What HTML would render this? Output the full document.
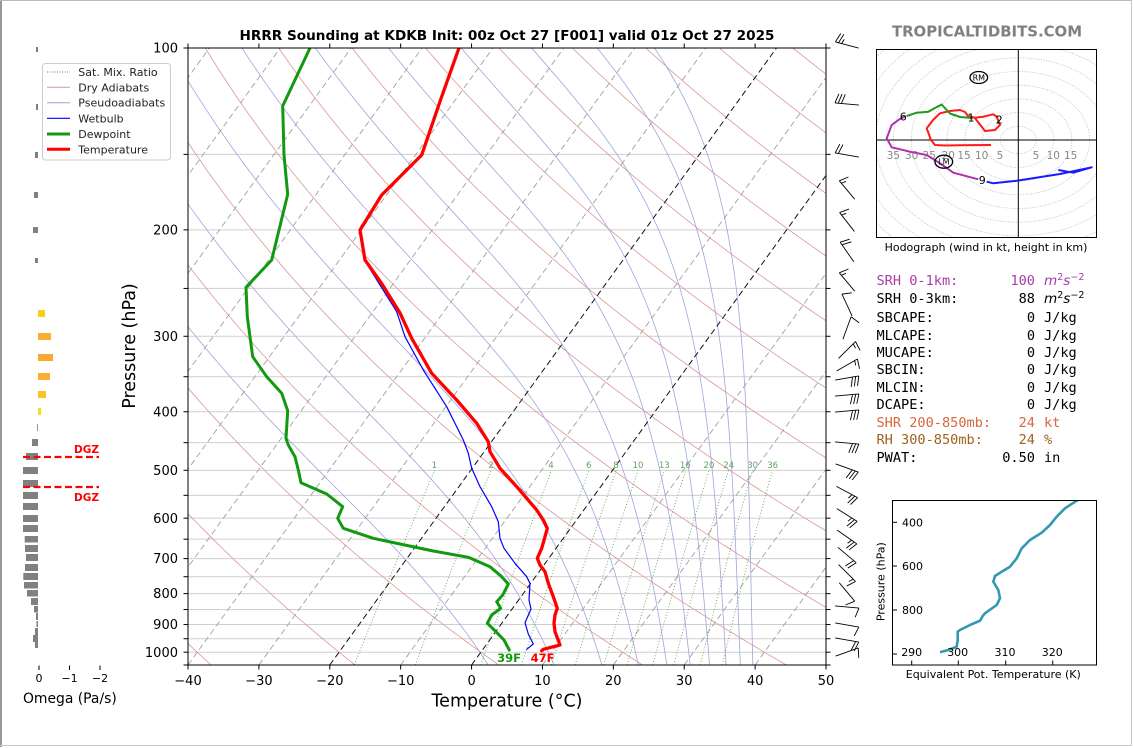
<!DOCTYPE html>
<html><head><meta charset="utf-8"><style>
html,body{margin:0;padding:0;background:#fff;}
svg{display:block;}
text{font-family:"DejaVu Sans","Liberation Sans",sans-serif;}
.mono text{font-family:"DejaVu Sans Mono","Liberation Mono",monospace;font-size:13.6px;}
.mono text.u{font-family:"DejaVu Sans","Liberation Sans",sans-serif;font-size:13.6px;}
</style></head><body>
<svg id="s" width="1134" height="748" viewBox="0 0 1134 748" xmlns="http://www.w3.org/2000/svg">
<defs>
<clipPath id="cm"><rect x="188" y="48" width="638" height="617"/></clipPath>
<clipPath id="ch"><rect x="876" y="49" width="221" height="188"/></clipPath>
<clipPath id="ct"><rect x="892" y="500" width="205" height="165"/></clipPath>
</defs>
<rect width="1134" height="748" fill="#fff"/>
<!-- frame -->
<line x1="1" y1="0" x2="1" y2="747" stroke="#777" stroke-width="1.5"/>
<line x1="0" y1="0.5" x2="1132" y2="0.5" stroke="#bbb" stroke-width="1"/>
<line x1="1131.5" y1="0" x2="1131.5" y2="746" stroke="#c8c8c8" stroke-width="1"/>
<line x1="0" y1="745.5" x2="1132" y2="745.5" stroke="#c8c8c8" stroke-width="1"/>

<!-- main background lines (script) -->
<g id="bg" clip-path="url(#cm)"></g>

<!-- profiles -->
<g clip-path="url(#cm)" fill="none" stroke-linejoin="round" stroke-linecap="round">
<polyline stroke="#0000ff" stroke-width="1.2" points="458.5,48 440,100 421,155 381,195 359.5,230 364.5,260 380,285 396.7,311.7 405,336.7 423.3,370 446.7,406.7 463.3,440 468.3,453.3 471.7,468.3 480,486.7 491.7,506.7 498.3,521.7 500,538.3 504,548.3 515,563.3 526.7,576.7 530,583.3 529,600 531,609 525,622.7 528.3,634 533.3,644 526.7,649.3"/>
<polyline stroke="#119911" stroke-width="3" points="310,48 282.7,106 284,155 287.7,194.3 271.7,260 246,287.3 247.3,316.7 252.7,356.7 266.7,376.7 281.7,393.3 287.7,410.7 286,438.3 288.3,445 295,456.7 298.3,470 301,482.7 326.7,494 342.7,506.7 337.7,518.3 343.3,528.3 373.3,538.3 400,544 433.3,551 468.3,557.3 490,566.7 501.7,576.7 508.3,584 502.7,595 496.7,601.7 500.7,608.3 491.7,615 487.3,623.3 495,630.7 504,640 509.3,650"/>
<polyline stroke="#ff0000" stroke-width="3.3" points="459,48 440.5,100 421.7,155 381.7,195 360,230 365,260 382,284 400,313 411.7,338.3 431.7,373.3 456.7,400 476.7,423.3 488.3,441.7 490,451.7 500,468.3 516.7,486.7 536.7,510 543.3,520 547.3,528.3 545,536.7 541.7,548.3 537.3,558.3 540,565 545,571.7 548.3,583.3 553.3,596.7 557.3,608.3 555,615 554,623.3 555,631.7 560,645 543.3,649.3 541.7,650.7"/>
</g>
<text x="509" y="662" font-size="11.5" font-weight="bold" fill="#119911" text-anchor="middle">39F</text>
<text x="542.5" y="662" font-size="11.5" font-weight="bold" fill="#ff0000" text-anchor="middle">47F</text>

<!-- mixing ratio labels -->
<g font-size="8.6" fill="#5fa55f" text-anchor="middle">
<text x="434.3" y="468">1</text><text x="491" y="468">2</text><text x="551" y="468">4</text><text x="588.7" y="468">6</text><text x="616" y="468">8</text><text x="638" y="468">10</text><text x="664.3" y="468">13</text><text x="685.3" y="468">16</text><text x="709" y="468">20</text><text x="728.7" y="468">24</text><text x="752.7" y="468">30</text><text x="772.7" y="468">36</text>
</g>

<!-- axes spines & ticks -->
<g id="axes"></g>
<rect x="188" y="48" width="638" height="617" fill="none" stroke="#000" stroke-width="1"/>

<!-- y tick labels -->
<g font-size="13" text-anchor="end" fill="#000">
<text x="178" y="52.6">100</text>
<text x="178" y="234.5">200</text>
<text x="178" y="340.9">300</text>
<text x="178" y="416.4">400</text>
<text x="178" y="474.9">500</text>
<text x="178" y="522.8">600</text>
<text x="178" y="563.2">700</text>
<text x="178" y="598.2">800</text>
<text x="178" y="629.2">900</text>
<text x="178" y="656.8">1000</text>
</g>
<!-- x tick labels -->
<g font-size="13" text-anchor="middle" fill="#000">
<text x="188" y="685">−40</text>
<text x="258.9" y="685">−30</text>
<text x="329.8" y="685">−20</text>
<text x="400.7" y="685">−10</text>
<text x="471.6" y="685">0</text>
<text x="542.4" y="685">10</text>
<text x="613.3" y="685">20</text>
<text x="684.2" y="685">30</text>
<text x="755.1" y="685">40</text>
<text x="826" y="685">50</text>
</g>
<text x="507" y="706.5" font-size="17.5" text-anchor="middle">Temperature (°C)</text>
<text transform="translate(135,346) rotate(-90)" font-size="17.5" text-anchor="middle">Pressure (hPa)</text>
<text x="507" y="40" font-size="13.6" font-weight="bold" text-anchor="middle">HRRR Sounding at KDKB Init: 00z Oct 27 [F001] valid 01z Oct 27 2025</text>
<text x="987" y="36.5" font-size="14.9" font-weight="bold" fill="#808080" text-anchor="middle">TROPICALTIDBITS.COM</text>

<!-- wind barbs -->
<g id="barbs"></g>

<!-- omega panel -->
<g fill="#808080">
<rect x="36" y="47" width="2" height="5"/>
<rect x="36" y="104" width="2" height="6"/>
<rect x="35" y="152" width="3" height="6"/>
<rect x="34" y="192" width="4" height="6"/>
<rect x="33" y="227" width="5" height="6"/>
<rect x="35" y="258" width="3" height="5"/>
<rect x="37.2" y="424" width="0.8" height="7"/>
<rect x="32" y="439" width="6" height="7"/>
<rect x="26" y="453" width="12" height="7"/>
<rect x="23" y="467" width="15" height="7"/>
<rect x="23" y="480" width="15" height="7"/>
<rect x="23" y="492" width="15" height="7"/>
<rect x="23" y="503" width="15" height="7"/>
<rect x="23" y="515" width="15" height="7"/>
<rect x="23" y="525" width="15" height="7"/>
<rect x="24.7" y="536" width="13.3" height="6.5"/>
<rect x="25" y="545" width="13" height="7"/>
<rect x="26" y="554" width="12" height="7"/>
<rect x="25" y="564" width="13" height="7"/>
<rect x="23.3" y="573" width="14.7" height="7"/>
<rect x="24" y="582" width="14" height="6.5"/>
<rect x="27" y="590" width="11" height="6.5"/>
<rect x="31" y="598" width="7" height="7"/>
<rect x="34" y="606" width="4" height="6.5"/>
<rect x="36" y="613" width="2" height="7"/>
<rect x="36.5" y="621" width="1.5" height="6"/>
<rect x="35" y="628" width="3" height="7"/>
<rect x="33" y="635" width="5" height="7"/>
<rect x="35" y="642" width="3" height="6"/>
</g>
<rect x="38" y="310" width="7" height="7" fill="#f6cf1c"/>
<rect x="38" y="333" width="13" height="7" fill="#f9ae30"/>
<rect x="38" y="354" width="15" height="7" fill="#f9a830"/>
<rect x="38" y="373" width="12" height="7" fill="#f9ae30"/>
<rect x="38" y="391" width="8" height="7" fill="#f7c522"/>
<rect x="38" y="408" width="3" height="7" fill="#f2e01a"/>
<line x1="23" y1="457" x2="99" y2="457" stroke="#ff0000" stroke-width="2.3" stroke-dasharray="7,3.5"/>
<line x1="23" y1="487" x2="99" y2="487" stroke="#ff0000" stroke-width="2.3" stroke-dasharray="7,3.5"/>
<text x="99" y="453" font-size="10.5" font-weight="bold" fill="#ff0000" text-anchor="end">DGZ</text>
<text x="99" y="501" font-size="10.5" font-weight="bold" fill="#ff0000" text-anchor="end">DGZ</text>
<g stroke="#000" stroke-width="1">
<line x1="39" y1="665.5" x2="39" y2="670"/><line x1="69.5" y1="665.5" x2="69.5" y2="670"/><line x1="100" y1="665.5" x2="100" y2="670"/>
</g>
<g font-size="11" text-anchor="middle">
<text x="39" y="682">0</text><text x="69.5" y="682">−1</text><text x="100" y="682">−2</text>
</g>
<text x="23" y="703" font-size="13.9">Omega (Pa/s)</text>

<!-- legend -->
<rect x="42.5" y="63.5" width="128" height="96.5" rx="3" fill="#fff" fill-opacity="0.85" stroke="#cccccc" stroke-width="1"/>
<line x1="47" y1="72" x2="70" y2="72" stroke="#4a9a4a" stroke-width="1" stroke-dasharray="1,1.5"/>
<line x1="47" y1="87.3" x2="70" y2="87.3" stroke="#dc9797" stroke-width="1"/>
<line x1="47" y1="102.7" x2="70" y2="102.7" stroke="#a0a0dd" stroke-width="1"/>
<line x1="47" y1="118.3" x2="70" y2="118.3" stroke="#0000ff" stroke-width="1.2"/>
<line x1="47" y1="134" x2="70" y2="134" stroke="#119911" stroke-width="3"/>
<line x1="47" y1="149.3" x2="70" y2="149.3" stroke="#ff0000" stroke-width="3"/>
<g font-size="11" fill="#222">
<text x="78.3" y="76">Sat. Mix. Ratio</text>
<text x="78.3" y="91.3">Dry Adiabats</text>
<text x="78.3" y="106.7">Pseudoadiabats</text>
<text x="78.3" y="122.3">Wetbulb</text>
<text x="78.3" y="138">Dewpoint</text>
<text x="78.3" y="153.3">Temperature</text>
</g>

<!-- hodograph -->
<g id="hring" clip-path="url(#ch)"></g>
<line x1="1018.3" y1="49" x2="1018.3" y2="237" stroke="#000" stroke-width="1"/>
<line x1="876" y1="140" x2="1097" y2="140" stroke="#000" stroke-width="1"/>
<g font-size="10.5" fill="#888" text-anchor="middle">
<text x="893.3" y="159">35</text><text x="911.7" y="159">30</text><text x="929.3" y="159">25</text><text x="948.3" y="159">20</text><text x="964" y="159">15</text><text x="981.7" y="159">10</text><text x="1000" y="159">5</text><text x="1036" y="159">5</text><text x="1053.3" y="159">10</text><text x="1070.7" y="159">15</text>
</g>
<g clip-path="url(#ch)" fill="none" stroke-width="2" stroke-linejoin="round">
<polyline stroke="#ff1a1a" points="991,145 960,145.3 945,145.5 935,145 931,140 926.7,128.3 933,120 940,113.3 950,111 960,110 965,112 968,116 975,117.7 983.3,116.7 993.3,114.3 996.7,116.7 1000,125 995,130 985,131 975,118.3"/>
<polyline stroke="#1f9a1f" points="973,118 960,117 950,113.5 943,106 941.7,104.5 935,108 928.3,111.7 916.7,112.7 906.7,116"/>
<polyline stroke="#b030b0" points="906,116 899.3,119.3 891.7,125 886.7,138.3 891.7,147.3 910,151.7 926.7,155 940,163.3 953.3,172.7 978.3,179.3"/>
<polyline stroke="#1a1aff" points="986.7,181.7 993.3,183.3 1016.7,180.7 1060,174 1091.7,167.3 1073.3,172.7 1058.3,170"/>
</g>
<g font-size="11" text-anchor="middle" fill="#000">
<text x="971" y="121.3">1</text><text x="999.3" y="123.3">2</text><text x="903.3" y="120.7">6</text><text x="982.3" y="184">9</text>
</g>
<ellipse cx="978.8" cy="77.5" rx="8.8" ry="6" fill="none" stroke="#000" stroke-width="1.3"/>
<text x="978.8" y="80.3" font-size="8" text-anchor="middle">RM</text>
<ellipse cx="943.8" cy="161.7" rx="8.8" ry="6.5" fill="none" stroke="#000" stroke-width="1.3"/>
<text x="943.8" y="164.5" font-size="8" text-anchor="middle">LM</text>
<rect x="876.5" y="49.5" width="220" height="188" fill="none" stroke="#000" stroke-width="1"/>
<text x="986" y="251" font-size="11" text-anchor="middle">Hodograph (wind in kt, height in km)</text>

<!-- text block -->
<g class="mono">
<text x="876.5" y="285" fill="#a83ca8">SRH 0-1km:</text><text x="1035" y="285" fill="#a83ca8" text-anchor="end">100</text>
<text class="u" x="1044" y="285" fill="#a83ca8"><tspan font-style="italic">m</tspan><tspan dy="-5" font-size="9.5">2</tspan><tspan dy="5" font-style="italic">s</tspan><tspan dy="-5" font-size="9.5">−2</tspan></text>
<text x="876.5" y="303">SRH 0-3km:</text><text x="1035" y="303" text-anchor="end">88</text>
<text class="u" x="1044" y="303"><tspan font-style="italic">m</tspan><tspan dy="-5" font-size="9.5">2</tspan><tspan dy="5" font-style="italic">s</tspan><tspan dy="-5" font-size="9.5">−2</tspan></text>
<text x="876.5" y="322">SBCAPE:</text><text x="1035" y="322" text-anchor="end">0</text><text x="1044" y="322">J/kg</text>
<text x="876.5" y="340">MLCAPE:</text><text x="1035" y="340" text-anchor="end">0</text><text x="1044" y="340">J/kg</text>
<text x="876.5" y="357">MUCAPE:</text><text x="1035" y="357" text-anchor="end">0</text><text x="1044" y="357">J/kg</text>
<text x="876.5" y="374">SBCIN:</text><text x="1035" y="374" text-anchor="end">0</text><text x="1044" y="374">J/kg</text>
<text x="876.5" y="392">MLCIN:</text><text x="1035" y="392" text-anchor="end">0</text><text x="1044" y="392">J/kg</text>
<text x="876.5" y="409">DCAPE:</text><text x="1035" y="409" text-anchor="end">0</text><text x="1044" y="409">J/kg</text>
<text x="876.5" y="427" fill="#d6683c">SHR 200-850mb:</text><text x="1035" y="427" fill="#d6683c" text-anchor="end">24</text><text x="1044" y="427" fill="#d6683c">kt</text>
<text x="876.5" y="444" fill="#a0621c">RH 300-850mb:</text><text x="1035" y="444" fill="#a0621c" text-anchor="end">24</text><text x="1044" y="444" fill="#a0621c">%</text>
<text x="876.5" y="462">PWAT:</text><text x="1035" y="462" text-anchor="end">0.50</text><text x="1044" y="462">in</text>
</g>

<!-- theta-e panel -->
<g clip-path="url(#ct)">
<polyline fill="none" stroke="#3399b3" stroke-width="2.6" stroke-linejoin="round" points="940,652.3 948.3,650 956.7,646.7 957.7,640 957.7,631.7 960,630 970,625 980,620.7 982.7,616 985,613.3 996.7,605 1000,598.3 998.3,590 993.3,581.7 995,576 1003.3,570.7 1010,566.7 1016.7,558.3 1021.7,548.3 1030,540 1041.7,532.7 1050,525 1056.7,516.7 1065,508.3 1076.7,500.7 1080,499"/>
</g>
<rect x="892.5" y="500.5" width="204" height="164.5" fill="none" stroke="#000" stroke-width="1"/>
<g stroke="#000" stroke-width="1">
<line x1="892.5" y1="522.3" x2="897" y2="522.3"/><line x1="892.5" y1="566" x2="897" y2="566"/><line x1="892.5" y1="610" x2="897" y2="610"/><line x1="892.5" y1="654" x2="897" y2="654"/>
<line x1="911.7" y1="665" x2="911.7" y2="660.5"/><line x1="958.3" y1="665" x2="958.3" y2="660.5"/><line x1="1005.7" y1="665" x2="1005.7" y2="660.5"/><line x1="1052.7" y1="665" x2="1052.7" y2="660.5"/>
</g>
<g font-size="11">
<text x="902" y="526.3">400</text><text x="902" y="570">600</text><text x="902" y="614">800</text>
</g>
<g font-size="11" text-anchor="middle">
<text x="911.7" y="656">290</text><text x="957.7" y="656">300</text><text x="1005" y="656">310</text><text x="1052.3" y="656">320</text>
</g>
<text transform="translate(884.5,581.7) rotate(-90)" font-size="11" text-anchor="middle">Pressure (hPa)</text>
<text x="993.3" y="678" font-size="11" text-anchor="middle">Equivalent Pot. Temperature (K)</text>
</svg>
<script>
(function(){
var NS='http://www.w3.org/2000/svg';
function el(tag,a,par){var e=document.createElementNS(NS,tag);for(var k in a)e.setAttribute(k,a[k]);par.appendChild(e);return e;}
var L=188,R=826,T=48,B=665,W=R-L,H=B-T,LN=Math.log(1050/100);
var SK=Math.tan(35*Math.PI/180)*W/H;
function Y(p){return B-H*Math.log(1050/p)/LN;}
function X(t,p){return L+(t+40)/90*W+SK*(B-Y(p));}
function pl(pts){return pts.map(function(q){return q[0].toFixed(2)+','+q[1].toFixed(2);}).join(' ');}
var bg=document.getElementById('bg');
var p,i,t,pts;
// grid
for(p=150;p<=1000;p+=50){var y=Y(p);el('line',{x1:L,y1:y,x2:R,y2:y,stroke:'#cfcfcf','stroke-width':1},bg);}
// dry adiabats
for(var t0=-60;t0<=340;t0+=20){var th=t0+273.15;pts=[];for(p=1050;p>=100;p-=10)pts.push([X(th*Math.pow(p/1000,0.2857)-273.15,p),Y(p)]);el('polyline',{points:pl(pts),fill:'none',stroke:'#dc9797','stroke-width':0.8},bg);}
// moist adiabats
function es(T){var c=T-273.15;return 6.112*Math.exp(17.67*c/(c+243.5));}
function rs(T,p){var e=es(T);return 0.622*e/Math.max(p-e,1);}
function dTdp(T,p){var r=rs(T,p);return (287.04*T+2.501e6*r)/(p*(1005.7+2.501e6*2.501e6*r*0.622/(287.04*T*T)));}
function the(T,p){return T*Math.pow(1000/p,0.2857)*Math.exp(2.501e6*rs(T,p)/(1005.7*T));}
for(var te=283.15;te<=463.2;te+=20){
  var lo=110,hi=330;for(i=0;i<60;i++){var m=(lo+hi)/2;if(the(m,100)<te)lo=m;else hi=m;}
  var Tk=(lo+hi)/2;p=100;pts=[[X(Tk-273.15,p),Y(p)]];var dp=5;
  while(p<1050){var k1=dTdp(Tk,p);var k2=dTdp(Tk+k1*dp,p+dp);Tk+=0.5*(k1+k2)*dp;p+=dp;pts.push([X(Tk-273.15,p),Y(p)]);}
  el('polyline',{points:pl(pts),fill:'none',stroke:'#a3a3de','stroke-width':0.8},bg);
}
// isotherms
for(t=-160;t<=50;t+=10){var k=(t===0||t===-20);el('line',{x1:X(t,1050),y1:B,x2:X(t,100),y2:T,stroke:k?'#111':'#a0a0a0','stroke-width':k?1:0.9,'stroke-dasharray':'6,3.5'},bg);}
// mixing ratio
var ws=[1,2,4,6,8,10,13,16,20,24,30,36];
for(i=0;i<ws.length;i++){var w=ws[i]/1000;pts=[];for(p=1050;p>=500;p-=25){var e=w*p/(0.622+w);var l=Math.log(e/6.112);var td=243.5*l/(17.67-l);pts.push([X(td,p),Y(p)]);}
 el('polyline',{points:pl(pts),fill:'none',stroke:'#4f9f4f','stroke-width':0.9,'stroke-dasharray':'1,2','stroke-opacity':0.9},bg);}
// ticks
var ax=document.getElementById('axes');
for(p=100;p<=1050;p+=50){var yy=Y(p);el('line',{x1:L-4.5,y1:yy,x2:L,y2:yy,stroke:'#000','stroke-width':1},ax);el('line',{x1:R,y1:yy,x2:R+4.5,y2:yy,stroke:'#000','stroke-width':1},ax);}
for(i=0;i<=9;i++){var xx=L+i*W/9;el('line',{x1:xx,y1:B,x2:xx,y2:B+4.5,stroke:'#000','stroke-width':1},ax);el('line',{x1:xx,y1:T-4.5,x2:xx,y2:T,stroke:'#000','stroke-width':1},ax);}
// barbs
var gb=document.getElementById('barbs');
function barb(cx,cy,dir,spd){
  var Lb=24,a=dir*Math.PI/180;var s=[Math.sin(a),-Math.cos(a)],tt=[-s[1],s[0]];
  var tip=[cx+s[0]*Lb/2,cy+s[1]*Lb/2],base=[cx-s[0]*Lb/2,cy-s[1]*Lb/2];
  var d='M'+base[0].toFixed(2)+','+base[1].toFixed(2)+'L'+tip[0].toFixed(2)+','+tip[1].toFixed(2);
  var n=Math.round(spd/5),full=Math.floor(n/2),half=n%2,h=9.5,sp=3.2,back=3,off=0,j,q;
  for(j=0;j<full;j++){q=[tip[0]-s[0]*off,tip[1]-s[1]*off];d+='M'+q[0].toFixed(2)+','+q[1].toFixed(2)+'L'+(q[0]+tt[0]*h-s[0]*back).toFixed(2)+','+(q[1]+tt[1]*h-s[1]*back).toFixed(2);off+=sp;}
  if(half){if(full===0)off+=sp;q=[tip[0]-s[0]*off,tip[1]-s[1]*off];d+='M'+q[0].toFixed(2)+','+q[1].toFixed(2)+'L'+(q[0]+tt[0]*h/2-s[0]*back/2).toFixed(2)+','+(q[1]+tt[1]*h/2-s[1]*back/2).toFixed(2);}
  el('path',{d:d,stroke:'#000','stroke-width':0.9,fill:'none'},gb);
}
var bl=[[45,285,25],[104,275,30],[155,280,20],[190,320,15],[222,322,15],[252,325,20],[282,320,15],[305,335,10],[328,20,10],[350,45,15],[365,60,15],[378,80,30],[395,85,30],[411,85,30],[443,95,30],[468,110,30],[492,118,25],[515,122,25],[537,125,25],[555,130,20],[573,135,15],[592,140,10],[607,95,10],[625,100,10],[640,100,20],[652,70,10]];
for(i=0;i<bl.length;i++)barb(847,bl[i][0],bl[i][1],bl[i][2]);
// hodograph rings
var hr=document.getElementById('hring');
for(var r=5;r<=80;r+=5)el('ellipse',{cx:1018.3,cy:140,rx:3.57*r,ry:2.74*r,fill:'none',stroke:'#b5b5b5','stroke-width':0.8,'stroke-dasharray':'1,1.6'},hr);
})();
</script>
</body></html>
